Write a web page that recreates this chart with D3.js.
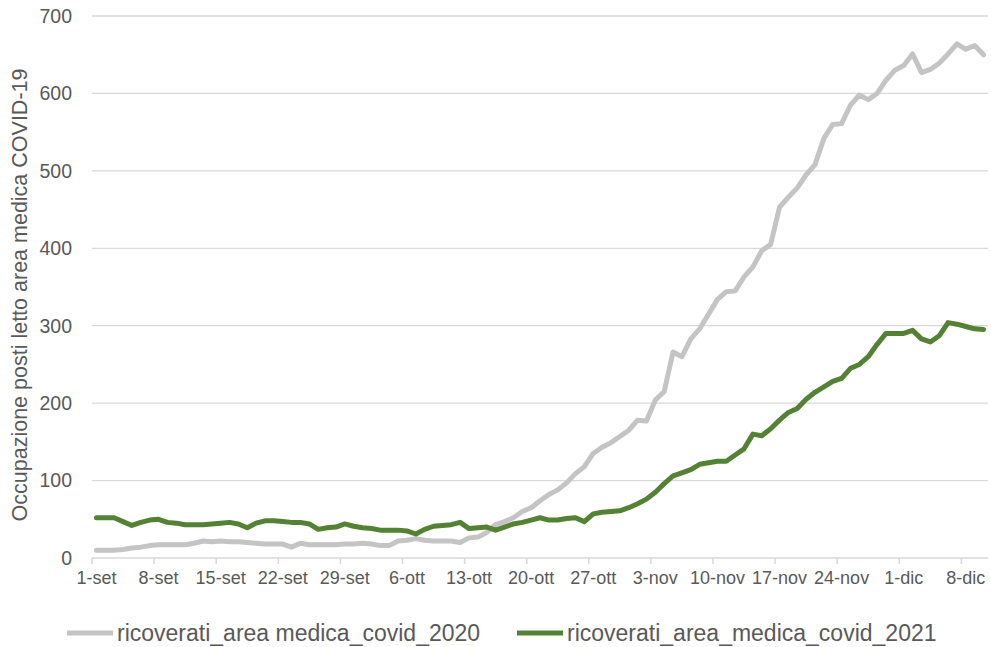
<!DOCTYPE html>
<html><head><meta charset="utf-8">
<script src="https://cdn.jsdelivr.net/npm/d3@7"></script>
<style>
html,body{margin:0;padding:0;background:#fff;}
text{font-family:"Liberation Sans",Arial,sans-serif;fill:#595959;}
</style></head>
<body><svg id="chart" width="991" height="647"></svg>
<script>
// categories: days from 1 Sep to 10 Dec
const monthNames = ["gen","feb","mar","apr","mag","giu","lug","ago","set","ott","nov","dic"];
const days = d3.timeDay.range(new Date(2021,8,1), new Date(2021,11,11));
const categories = days.map(d => d.getDate() + "-" + monthNames[d.getMonth()]);
const tickLabels = ["1-set","8-set","15-set","22-set","29-set","6-ott","13-ott","20-ott","27-ott","3-nov","10-nov","17-nov","24-nov","1-dic","8-dic"];
const yTicks = [0,100,200,300,400,500,600,700];
const seriesNames = ["ricoverati_area medica_covid_2020","ricoverati_area_medica_covid_2021"];

const covid2020 = [10,10,10,11,13,14,16,17,17,17,
  17,19,22,21,22,21,21,20,19,18,
  18,18,14,19,17,17,17,17,18,18,
  19,18,16,16,22,23,25,23,22,22,
  22,20,26,27,33,43,47,52,60,65,
  74,82,88,97,109,118,135,143,149,157,
  165,178,177,204,215,266,260,283,296,315,
  334,344,345,363,376,397,405,453,466,478,
  495,508,542,560,561,585,598,592,600,617,
  630,636,651,627,631,639,651,664,657,662,
  650];
const covid2021 = [52,52,52,47,42,46,49,50,46,45,
  43,43,43,44,45,46,44,39,45,48,
  48,47,46,46,44,37,39,40,44,41,
  39,38,36,36,36,35,31,37,41,42,
  43,46,38,39,40,36,40,44,46,49,
  52,49,49,51,52,47,57,59,60,61,
  65,70,76,85,96,106,110,114,121,123,
  125,125,133,141,160,158,167,178,188,193,
  205,214,221,228,232,245,250,260,276,290,
  290,290,294,283,279,287,304,302,299,296,
  295];

const svg = d3.select("#chart");
const mLeft = 92, mRight = 988, mTop = 16, mBottom = 558;

const x = d3.scaleBand().domain(categories).range([mLeft, mRight]).padding(0);
const y = d3.scaleLinear().domain([0, 700]).range([mBottom, mTop]);
const cx = c => x(c) + x.bandwidth()/2;

// gridlines
svg.append("g").selectAll("line").data(yTicks.filter(v => v > 0)).join("line")
  .attr("x1", mLeft).attr("x2", mRight)
  .attr("y1", d => y(d)).attr("y2", d => y(d))
  .attr("stroke", "#d9d9d9").attr("stroke-width", 1.3);

// y labels
svg.append("g").selectAll("text").data(yTicks).join("text")
  .attr("x", 72).attr("y", d => y(d)).attr("dy", "0.35em")
  .attr("text-anchor", "end").attr("font-size", 19.5)
  .text(d => d);

// x axis line
svg.append("line").attr("x1", mLeft).attr("x2", mRight).attr("y1", mBottom).attr("y2", mBottom)
  .attr("stroke", "#d9d9d9").attr("stroke-width", 1.5);

// x ticks at category boundaries every 7 days
const tickCats = categories.filter(c => tickLabels.includes(c));
svg.append("g").selectAll("line").data(tickCats).join("line")
  .attr("x1", d => x(d)).attr("x2", d => x(d))
  .attr("y1", mBottom).attr("y2", mBottom + 6)
  .attr("stroke", "#d9d9d9").attr("stroke-width", 1.5);
svg.append("g").selectAll("text").data(tickCats).join("text")
  .attr("x", d => cx(d)).attr("y", 584)
  .attr("text-anchor", "middle").attr("font-size", 18)
  .text(d => d);

// y title
svg.append("text")
  .attr("transform", `translate(27,${(mTop+mBottom)/2 + 8}) rotate(-90)`)
  .attr("text-anchor", "middle").attr("font-size", 21.5)
  .text("Occupazione posti letto area medica COVID-19");

// lines
const line = d3.line().x((d,i) => cx(categories[i])).y(d => y(d));
svg.append("path").datum(covid2020).attr("d", line)
  .attr("fill", "none").attr("stroke", "#c4c4c4").attr("stroke-width", 5)
  .attr("stroke-linejoin", "round").attr("stroke-linecap", "round");
svg.append("path").datum(covid2021).attr("d", line)
  .attr("fill", "none").attr("stroke", "#548235").attr("stroke-width", 5)
  .attr("stroke-linejoin", "round").attr("stroke-linecap", "round");

// legend
const legendColors = ["#c4c4c4", "#548235"];
const legendX = [67, 517];
const lg = svg.append("g");
seriesNames.forEach((name, i) => {
  lg.append("line").attr("x1", legendX[i]).attr("x2", legendX[i] + 46)
    .attr("y1", 633).attr("y2", 633)
    .attr("stroke", legendColors[i]).attr("stroke-width", 5);
  lg.append("text").attr("x", legendX[i] + 50).attr("y", 633).attr("dy", "0.35em")
    .attr("font-size", 23).text(name);
});
</script></body></html>
